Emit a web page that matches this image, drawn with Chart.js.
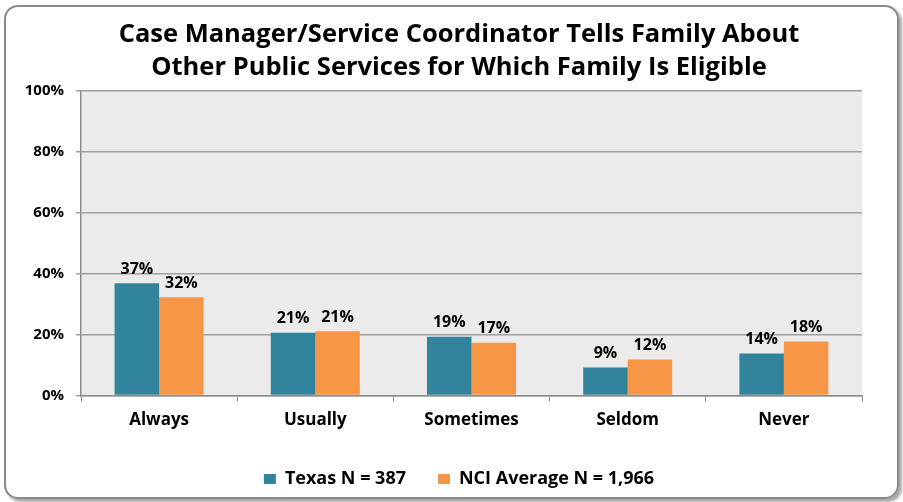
<!DOCTYPE html>
<html>
<head>
<meta charset="utf-8">
<script src="https://cdn.jsdelivr.net/npm/chart.js@4.4.1/dist/chart.umd.min.js"></script>
<style>
  html, body { margin: 0; padding: 0; background: #fff; }
  #wrap { position: relative; width: 903px; height: 502px; }
  #frame {
    position: absolute; left: 4px; top: 5px; width: 891px; height: 490px;
    border: 2px solid #8a8a8a; border-radius: 14px;
    box-shadow: 3px 3px 3px rgba(0,0,0,0.35);
  }
  canvas { position: absolute; left: 0; top: 0; }
</style>
</head>
<body>
<div id="wrap">
  <div id="frame"></div>
  <canvas id="chart" width="903" height="502"></canvas>
</div>
<script>
const categorias = ['Always', 'Usually', 'Sometimes', 'Seldom', 'Never'];
const texas = [36.8, 20.6, 19.3, 9.2, 13.8];
const nci = [32.2, 21.1, 17.3, 11.8, 17.7];
const seriesNomes = ['Texas N = 387', 'NCI Average N = 1,966'];
const titulo = ['Case Manager/Service Coordinator Tells Family About', 'Other Public Services for Which Family Is Eligible'];

const FONTE = '"Open Sans", Lato, sans-serif';

const fundoPlot = {
  id: 'fundoPlot',
  beforeDraw(chart) {
    const { ctx, chartArea: a } = chart;
    ctx.save();
    ctx.fillStyle = '#ebebeb';
    ctx.fillRect(a.left, a.top, a.right - a.left, a.bottom - a.top);
    ctx.restore();
  },
};

const rotulos = {
  id: 'rotulos',
  afterDatasetsDraw(chart) {
    const { ctx } = chart;
    ctx.save();
    ctx.font = 'bold 16px ' + FONTE;
    ctx.fillStyle = '#000';
    ctx.textAlign = 'center';
    ctx.textBaseline = 'bottom';
    chart.data.datasets.forEach((ds, i) => {
      chart.getDatasetMeta(i).data.forEach((bar, j) => {
        ctx.fillText(Math.round(ds.data[j]) + '%', bar.x, bar.y - 6);
      });
    });
    ctx.restore();
  },
};

new Chart(document.getElementById('chart'), {
  type: 'bar',
  data: {
    labels: categorias,
    datasets: [
      { label: seriesNomes[0], data: texas, backgroundColor: '#31849b' },
      { label: seriesNomes[1], data: nci, backgroundColor: '#f79646' },
    ],
  },
  options: {
    responsive: false,
    animation: false,
    layout: { padding: { left: 16, right: 1, top: 6, bottom: 4 } },
    datasets: { bar: { categoryPercentage: 0.57, barPercentage: 1.0 } },
    plugins: {
      title: {
        display: true,
        text: titulo,
        color: '#000',
        font: { family: FONTE, size: 25.5, weight: 'bold', lineHeight: 1.3 },
        padding: { top: 12, bottom: 6 },
      },
      legend: {
        position: 'bottom',
        labels: {
          color: '#000',
          font: { family: FONTE, size: 18, weight: 'bold' },
          boxWidth: 12,
          boxHeight: 10,
          padding: 32,
        },
      },
      tooltip: { enabled: false },
    },
    scales: {
      x: {
        grid: { offset: true, drawOnChartArea: false, tickLength: 6, color: '#8c8c8c' },
        border: { color: '#8c8c8c', width: 1.5 },
        ticks: { color: '#000', font: { family: FONTE, size: 17, weight: 'bold' }, padding: 8 },
      },
      y: {
        min: 0,
        max: 100,
        afterFit: (s) => { s.width = 65; },
        grid: { color: '#a0a0a0', lineWidth: 1.5, tickLength: 5 },
        border: { color: '#8c8c8c', width: 1.5 },
        ticks: {
          stepSize: 20,
          color: '#000',
          padding: 12,
          font: { family: FONTE, size: 15, weight: 'bold' },
          callback: (v) => v + '%',
        },
      },
      espaco: {
        type: 'linear',
        position: 'right',
        afterFit: (s) => { s.width = 40; },
        grid: { display: false },
        border: { display: false },
        ticks: { display: false },
      },
    },
  },
  plugins: [fundoPlot, rotulos],
});
</script>
</body>
</html>
